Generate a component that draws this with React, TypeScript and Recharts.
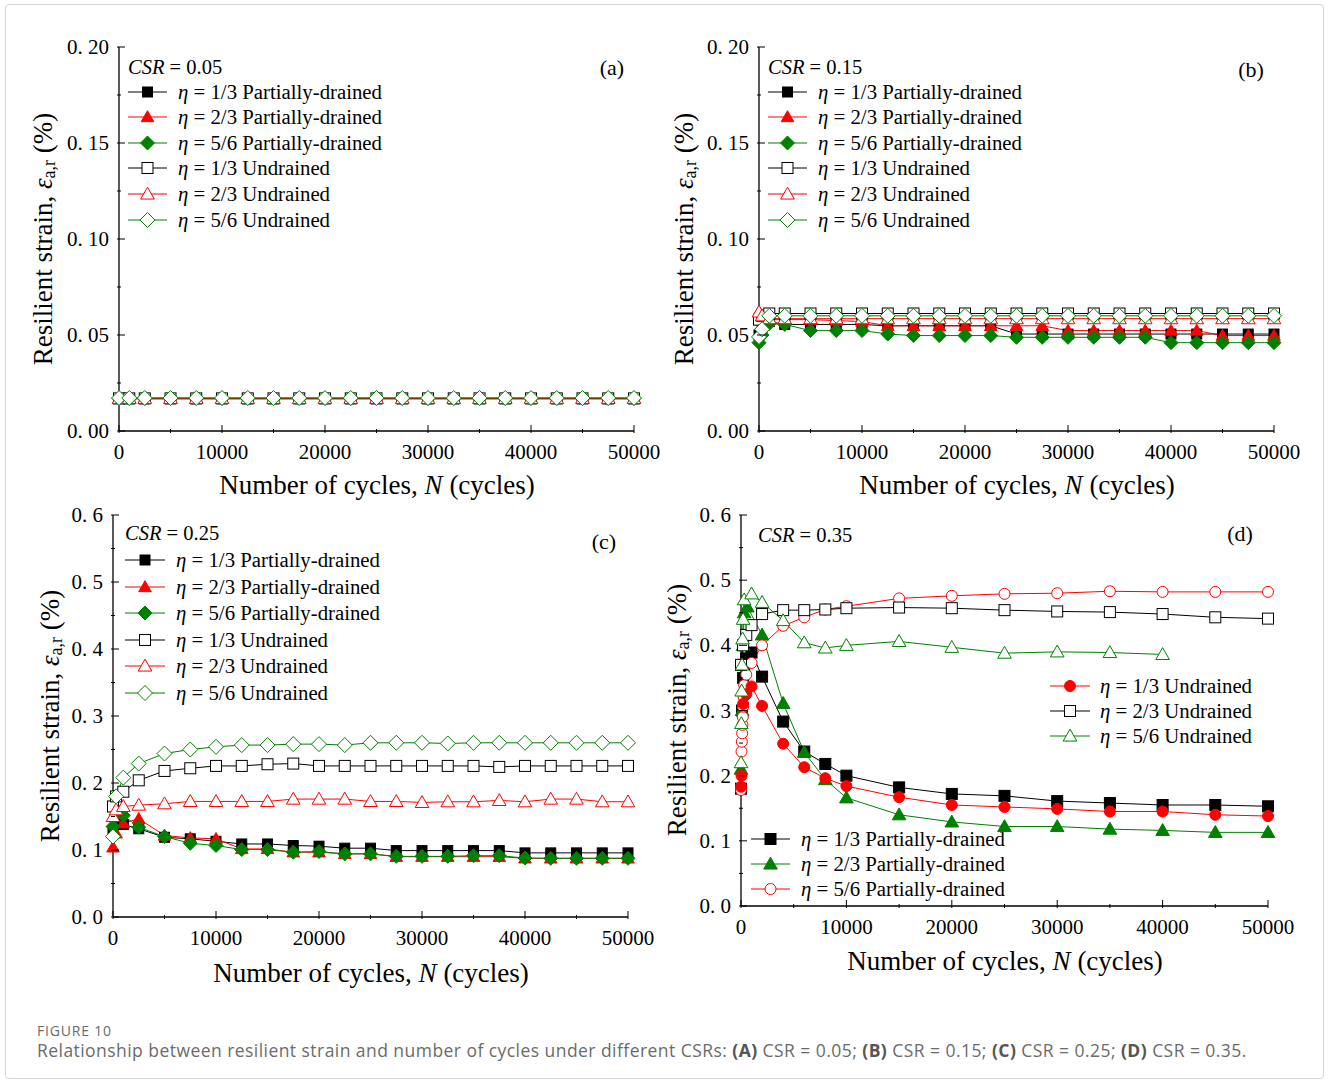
import React from 'react';
import { LineChart, Line, XAxis, YAxis, Legend } from 'recharts';

const SERIF = '"Liberation Serif", "Times New Roman", Times, serif';
const BLACK = '#000000';
const RED = '#ff0000';
const GREEN = '#008000';

// ---------- shared ticks ----------
const xTicks = [0, 5000, 10000, 15000, 20000, 25000, 30000, 35000, 40000, 45000, 50000];
const yTicksAB = [0, 0.025, 0.05, 0.075, 0.1, 0.125, 0.15, 0.175, 0.2];
const yTicksCD = [0, 0.05, 0.1, 0.15, 0.2, 0.25, 0.3, 0.35, 0.4, 0.45, 0.5, 0.55, 0.6];

// ---------- panel (a) CSR = 0.05 ----------
const nA = [0, 1000, 2500, 5000, 7500, 10000, 12500, 15000, 17500, 20000, 22500, 25000, 27500, 30000, 32500, 35000, 37500, 40000, 42500, 45000, 47500, 50000];
const aPd13 = [0.0168, 0.0168, 0.0168, 0.0168, 0.0168, 0.0168, 0.0168, 0.0168, 0.0168, 0.0168, 0.0168, 0.0168, 0.0168, 0.0168, 0.0168, 0.0168, 0.0168, 0.0168, 0.0168, 0.0168, 0.0168, 0.0168];
const aPd23 = [0.0168, 0.0168, 0.0168, 0.0168, 0.0168, 0.0168, 0.0168, 0.0168, 0.0168, 0.0168, 0.0168, 0.0168, 0.0168, 0.0168, 0.0168, 0.0168, 0.0168, 0.0168, 0.0168, 0.0168, 0.0168, 0.0168];
const aPd56 = [0.017, 0.017, 0.017, 0.017, 0.017, 0.017, 0.017, 0.017, 0.017, 0.017, 0.017, 0.017, 0.017, 0.017, 0.017, 0.017, 0.017, 0.017, 0.017, 0.017, 0.017, 0.017];
const aUd13 = [0.017, 0.017, 0.017, 0.017, 0.017, 0.017, 0.017, 0.017, 0.017, 0.017, 0.017, 0.017, 0.017, 0.017, 0.017, 0.017, 0.017, 0.017, 0.017, 0.017, 0.017, 0.017];
const aUd23 = [0.017, 0.017, 0.017, 0.017, 0.017, 0.017, 0.017, 0.017, 0.017, 0.017, 0.017, 0.017, 0.017, 0.017, 0.017, 0.017, 0.017, 0.017, 0.017, 0.017, 0.017, 0.017];
const aUd56 = [0.0172, 0.0172, 0.0172, 0.0172, 0.0172, 0.0172, 0.0172, 0.0172, 0.0172, 0.0172, 0.0172, 0.0172, 0.0172, 0.0172, 0.0172, 0.0172, 0.0172, 0.0172, 0.0172, 0.0172, 0.0172, 0.0172];

// ---------- panel (b) CSR = 0.15 ----------
const nB = [0, 300, 1000, 2500, 5000, 7500, 10000, 12500, 15000, 17500, 20000, 22500, 25000, 27500, 30000, 32500, 35000, 37500, 40000, 42500, 45000, 47500, 50000];
const bPd13 = [0.05, 0.054, 0.057, 0.0555, 0.0555, 0.0555, 0.0555, 0.0548, 0.0548, 0.0548, 0.0548, 0.0548, 0.0505, 0.0505, 0.0505, 0.0505, 0.0505, 0.0505, 0.0505, 0.0505, 0.0505, 0.0505, 0.0505];
const bPd23 = [0.062, 0.06, 0.058, 0.058, 0.058, 0.0575, 0.057, 0.0548, 0.0548, 0.0548, 0.0548, 0.0548, 0.0548, 0.0548, 0.0523, 0.0523, 0.0523, 0.0523, 0.0523, 0.0523, 0.0497, 0.0497, 0.0497];
const bPd56 = [0.046, 0.05, 0.056, 0.0555, 0.0523, 0.0523, 0.0523, 0.0505, 0.0497, 0.0497, 0.0497, 0.0497, 0.0488, 0.0488, 0.0488, 0.0488, 0.0488, 0.0488, 0.046, 0.046, 0.046, 0.046, 0.046];
const bUd13 = [0.058, 0.06, 0.0612, 0.0612, 0.0612, 0.0612, 0.0612, 0.0612, 0.0612, 0.0612, 0.0612, 0.0612, 0.0612, 0.0612, 0.0612, 0.0612, 0.0612, 0.0612, 0.0612, 0.0612, 0.0612, 0.0612, 0.0612];
const bUd23 = [0.062, 0.06, 0.0585, 0.0585, 0.0585, 0.0585, 0.0585, 0.0585, 0.0585, 0.0585, 0.0585, 0.0585, 0.0585, 0.0585, 0.0585, 0.0585, 0.0585, 0.0585, 0.0585, 0.0585, 0.0585, 0.0585, 0.0585];
const bUd56 = [0.049, 0.053, 0.06, 0.06, 0.06, 0.06, 0.06, 0.06, 0.06, 0.06, 0.06, 0.06, 0.06, 0.06, 0.06, 0.06, 0.06, 0.06, 0.06, 0.06, 0.06, 0.06, 0.06];

// ---------- panel (c) CSR = 0.25 ----------
const nC = [0, 300, 1000, 2500, 5000, 7500, 10000, 12500, 15000, 17500, 20000, 22500, 25000, 27500, 30000, 32500, 35000, 37500, 40000, 42500, 45000, 47500, 50000];
const cPd13 = [0.125, 0.14, 0.138, 0.1317, 0.119, 0.1167, 0.113, 0.109, 0.109, 0.1067, 0.1057, 0.1027, 0.1027, 0.0991, 0.0991, 0.0991, 0.0991, 0.0991, 0.0957, 0.0957, 0.0957, 0.0957, 0.0957];
const cPd23 = [0.104, 0.125, 0.14, 0.1466, 0.1217, 0.118, 0.1167, 0.1016, 0.1016, 0.0967, 0.0967, 0.0942, 0.0942, 0.09, 0.09, 0.09, 0.09, 0.09, 0.0876, 0.0876, 0.0876, 0.0876, 0.0876];
const cPd56 = [0.135, 0.16, 0.1517, 0.134, 0.12, 0.11, 0.1067, 0.1006, 0.1006, 0.0967, 0.0977, 0.0942, 0.0942, 0.0905, 0.0905, 0.0905, 0.0915, 0.0915, 0.088, 0.0876, 0.0876, 0.0876, 0.0876];
const cUd13 = [0.165, 0.18, 0.187, 0.204, 0.218, 0.222, 0.2255, 0.2255, 0.228, 0.229, 0.2255, 0.2255, 0.2255, 0.2255, 0.2255, 0.2255, 0.2255, 0.224, 0.2255, 0.2255, 0.2255, 0.2255, 0.2255];
const cUd23 = [0.15, 0.16, 0.165, 0.167, 0.169, 0.1725, 0.1725, 0.1725, 0.1725, 0.176, 0.176, 0.176, 0.1725, 0.1725, 0.171, 0.172, 0.172, 0.174, 0.172, 0.176, 0.176, 0.172, 0.172];
const cUd56 = [0.12, 0.18, 0.208, 0.229, 0.244, 0.25, 0.254, 0.2566, 0.2566, 0.258, 0.258, 0.2566, 0.26, 0.26, 0.26, 0.259, 0.26, 0.26, 0.26, 0.26, 0.26, 0.26, 0.26];

// ---------- panel (d) CSR = 0.35 ----------
const dPd13N = [0, 100, 200, 300, 500, 1000, 2000, 4000, 6000, 8000, 10000, 15000, 20000, 25000, 30000, 35000, 40000, 45000, 50000];
const dPd13 = [0.18, 0.3, 0.35, 0.37, 0.38, 0.389, 0.352, 0.283, 0.237, 0.218, 0.2, 0.182, 0.172, 0.169, 0.161, 0.158, 0.155, 0.155, 0.153];
const dPd23N = [0, 100, 200, 300, 600, 2000, 4000, 6000, 8000, 10000, 15000, 20000, 25000, 30000, 35000, 40000, 45000, 50000];
const dPd23 = [0.21, 0.3, 0.4, 0.45, 0.459, 0.416, 0.311, 0.236, 0.194, 0.166, 0.14, 0.129, 0.122, 0.122, 0.118, 0.116, 0.113, 0.113];
const dPd56N = [0, 50, 80, 110, 140, 170, 200, 250, 300, 500, 1000, 2000, 4000, 6000, 8000, 10000, 15000, 20000, 25000, 30000, 35000, 40000, 45000, 50000];
const dPd56 = [0.178, 0.237, 0.252, 0.265, 0.278, 0.29, 0.306, 0.321, 0.339, 0.355, 0.373, 0.4, 0.43, 0.443, 0.455, 0.46, 0.472, 0.476, 0.479, 0.48, 0.483, 0.482, 0.482, 0.482];
const dUd13N = [0, 50, 200, 500, 1000, 2000, 4000, 6000, 8000, 10000, 15000, 20000, 25000, 30000, 35000, 40000, 45000, 50000];
const dUd13 = [0.183, 0.2, 0.31, 0.325, 0.337, 0.307, 0.249, 0.213, 0.196, 0.184, 0.167, 0.155, 0.152, 0.149, 0.145, 0.145, 0.14, 0.138];
const dUd23N = [0, 200, 500, 1000, 2000, 4000, 6000, 8000, 10000, 15000, 20000, 25000, 30000, 35000, 40000, 45000, 50000];
const dUd23 = [0.37, 0.4, 0.416, 0.431, 0.448, 0.454, 0.454, 0.455, 0.457, 0.458, 0.457, 0.454, 0.452, 0.451, 0.448, 0.443, 0.441];
const dUd56N = [0, 30, 60, 100, 150, 200, 300, 1000, 2000, 4000, 6000, 8000, 10000, 15000, 20000, 25000, 30000, 35000, 40000];
const dUd56 = [0.22, 0.28, 0.33, 0.37, 0.41, 0.44, 0.47, 0.479, 0.466, 0.438, 0.404, 0.396, 0.4, 0.406, 0.397, 0.388, 0.39, 0.389, 0.386];

// ---------- labels ----------
const lbl13pd = '1/3 Partially-drained';
const lbl23pd = '2/3 Partially-drained';
const lbl56pd = '5/6 Partially-drained';
const lbl13ud = '1/3 Undrained';
const lbl23ud = '2/3 Undrained';
const lbl56ud = '5/6 Undrained';

type Shape = 'square' | 'triangle' | 'diamond' | 'circle';
type Series = { name: string; n: number[]; v: number[]; color: string; shape: Shape; filled: boolean; size: number };

const Marker = ({ shape, x, y, color, filled, size }: { shape: Shape; x: number; y: number; color: string; filled: boolean; size: number }) => {
  const fill = filled ? color : '#ffffff';
  const h = size / 2;
  if (shape === 'square') return <rect x={x - h} y={y - h} width={size} height={size} fill={fill} stroke={color} strokeWidth={1} />;
  if (shape === 'circle') return <circle cx={x} cy={y} r={h} fill={fill} stroke={color} strokeWidth={1} />;
  if (shape === 'triangle')
    return <polygon points={`${x},${y - h * 1.05} ${x - h * 1.05},${y + h * 0.78} ${x + h * 1.05},${y + h * 0.78}`} fill={fill} stroke={color} strokeWidth={1} />;
  return <polygon points={`${x},${y - h} ${x + h},${y} ${x},${y + h} ${x - h},${y}`} fill={fill} stroke={color} strokeWidth={1} />;
};

const toPts = (n: number[], v: number[]) => n.map((x, i) => ({ n: x, v: v[i] }));

type LegendBlock = { rows: number[]; lineX0: number; lineX1: number; textX: number; entries: Series[] };

type PanelProps = {
  px: number; py: number; pw: number; ph: number;
  yMax: number; yTicks: number[]; yStep: number; yDec: number;
  series: Series[];
  header: { text: string; x: number; y: number };
  letter: { text: string; x: number; y: number };
  blocks: LegendBlock[];
  xTitle: { x: number; y: number };
  yTitle: { x: number; y: number };
};

function Panel(p: PanelProps) {
  const L = p.px - 100;
  const T = p.py - 20;
  const W = p.pw + 150;
  const H = p.ph + 110;

  const xTick = (props: any) => {
    const { x, y, payload } = props;
    const v = payload.value;
    const major = v % 10000 === 0;
    return (
      <g>
        <line x1={x} x2={x} y1={y} y2={y - (major ? 8 : 4)} stroke="#000" strokeWidth={1} />
        {major && (
          <text x={x} y={y + 19} textAnchor="middle" dominantBaseline="central" fontFamily={SERIF} fontSize={21} fill="#000">
            {String(v)}
          </text>
        )}
      </g>
    );
  };

  const yTick = (props: any) => {
    const { x, y, payload } = props;
    const v = payload.value;
    const r = v / p.yStep;
    const major = Math.abs(r - Math.round(r)) < 1e-6;
    return (
      <g>
        <line x1={x} x2={x + (major ? 8 : 4)} y1={y} y2={y} stroke="#000" strokeWidth={1} />
        {major && (
          <text x={x - 8} y={y} textAnchor="end" dominantBaseline="central" fontFamily={SERIF} fontSize={21} fill="#000">
            {v.toFixed(p.yDec).replace('.', '. ')}
          </text>
        )}
      </g>
    );
  };

  const xTitle = () => (
    <text x={p.xTitle.x - L} y={p.xTitle.y - T} textAnchor="middle" dominantBaseline="central" fontFamily={SERIF} fontSize={27} fill="#000">
      <tspan>Number of cycles, </tspan>
      <tspan fontStyle="italic">N</tspan>
      <tspan> (cycles)</tspan>
    </text>
  );

  const yTitle = () => {
    const cx = p.yTitle.x - L;
    const cy = p.yTitle.y - T;
    return (
      <text x={cx} y={cy} transform={`rotate(-90, ${cx}, ${cy})`} textAnchor="middle" dominantBaseline="central" fontFamily={SERIF} fontSize={27} fill="#000">
        <tspan>Resilient strain, </tspan>
        <tspan fontStyle="italic">ε</tspan>
        <tspan fontSize={18} dy={6}>a,r</tspan>
        <tspan dy={-6}> (%)</tspan>
      </text>
    );
  };

  const legendContent = () => (
    <div style={{ position: 'relative', width: 0, height: 0, fontFamily: SERIF, color: '#000' }}>
      <div style={{ position: 'absolute', left: p.header.x - L, top: p.header.y - T - 12, lineHeight: '24px', fontSize: 20.5, whiteSpace: 'nowrap' }}>
        <i>CSR</i> = {p.header.text}
      </div>
      <div style={{ position: 'absolute', left: p.letter.x - L - 20, width: 40, textAlign: 'center', top: p.letter.y - T - 12, lineHeight: '24px', fontSize: 22, whiteSpace: 'nowrap' }}>
        {p.letter.text}
      </div>
      {p.blocks.map((b, bi) =>
        b.entries.map((s, i) => {
          const cy = b.rows[i];
          const w = b.lineX1 - b.lineX0;
          return (
            <React.Fragment key={`${bi}-${i}`}>
              <svg style={{ position: 'absolute', left: b.lineX0 - L, top: cy - T - 10, overflow: 'visible' }} width={w} height={20}>
                <line x1={0} x2={w} y1={10} y2={10} stroke={s.color} strokeWidth={1} />
                <Marker shape={s.shape} x={w / 2} y={10} color={s.color} filled={s.filled} size={s.size} />
              </svg>
              <div style={{ position: 'absolute', left: b.textX - L, top: cy - T - 12, lineHeight: '24px', fontSize: 20.8, whiteSpace: 'nowrap' }}>
                <i>η</i> = {s.name}
              </div>
            </React.Fragment>
          );
        })
      )}
    </div>
  );

  return (
    <div style={{ position: 'absolute', left: L, top: T, width: W, height: H }}>
      <LineChart width={W} height={H} margin={{ top: 20, right: 50, bottom: 60, left: 40 }}>
        <XAxis
          type="number"
          dataKey="n"
          domain={[0, 50000]}
          ticks={xTicks}
          interval={0}
          tickSize={0}
          tickLine={false}
          height={30}
          axisLine={{ stroke: '#000', strokeWidth: 1.3 }}
          tick={xTick}
          label={xTitle}
        />
        <XAxis xAxisId="top" orientation="top" type="number" domain={[0, 50000]} height={0} tick={false} tickLine={false} axisLine={{ stroke: '#000', strokeWidth: 1.3 }} />
        <YAxis
          type="number"
          domain={[0, p.yMax]}
          ticks={p.yTicks}
          interval={0}
          width={60}
          tickSize={0}
          tickLine={false}
          axisLine={{ stroke: '#000', strokeWidth: 1.3 }}
          tick={yTick}
          label={yTitle}
        />
        <YAxis yAxisId="right" orientation="right" type="number" domain={[0, p.yMax]} width={0} tick={false} tickLine={false} axisLine={{ stroke: '#000', strokeWidth: 1.3 }} />
        {p.series.map((s, si) => (
          <Line
            key={si}
            data={toPts(s.n, s.v)}
            dataKey="v"
            name={s.name}
            type="linear"
            stroke={s.color}
            strokeWidth={1}
            isAnimationActive={false}
            activeDot={false}
            legendType="none"
            dot={(dp: any) => {
              const { cx, cy, index } = dp;
              if (cx == null || cy == null) return <g key={`d${index}`} />;
              return (
                <g key={`d${index}`}>
                  <Marker shape={s.shape} x={cx} y={cy} color={s.color} filled={s.filled} size={s.size} />
                </g>
              );
            }}
          />
        ))}
        <Legend layout="horizontal" verticalAlign="middle" align="center" content={legendContent} wrapperStyle={{ left: 0, top: 0, width: 0, height: 0, overflow: 'visible' }} />
      </LineChart>
    </div>
  );
}

const sPd13 = (n: number[], v: number[]): Series => ({ name: lbl13pd, n, v, color: BLACK, shape: 'square', filled: true, size: 10 });
const sPd23 = (n: number[], v: number[]): Series => ({ name: lbl23pd, n, v, color: RED, shape: 'triangle', filled: true, size: 12 });
const sPd56 = (n: number[], v: number[]): Series => ({ name: lbl56pd, n, v, color: GREEN, shape: 'diamond', filled: true, size: 14 });
const sUd13 = (n: number[], v: number[]): Series => ({ name: lbl13ud, n, v, color: BLACK, shape: 'square', filled: false, size: 11 });
const sUd23 = (n: number[], v: number[]): Series => ({ name: lbl23ud, n, v, color: RED, shape: 'triangle', filled: false, size: 13 });
const sUd56 = (n: number[], v: number[]): Series => ({ name: lbl56ud, n, v, color: GREEN, shape: 'diamond', filled: false, size: 15 });

export default function App() {
  const seriesA = [sPd13(nA, aPd13), sPd23(nA, aPd23), sPd56(nA, aPd56), sUd13(nA, aUd13), sUd23(nA, aUd23), sUd56(nA, aUd56)];
  const seriesB = [sPd13(nB, bPd13), sPd23(nB, bPd23), sPd56(nB, bPd56), sUd13(nB, bUd13), sUd23(nB, bUd23), sUd56(nB, bUd56)];
  const seriesC = [sPd13(nC, cPd13), sPd23(nC, cPd23), sPd56(nC, cPd56), sUd13(nC, cUd13), sUd23(nC, cUd23), sUd56(nC, cUd56)];

  const dPdA: Series = { name: lbl13pd, n: dPd13N, v: dPd13, color: BLACK, shape: 'square', filled: true, size: 11 };
  const dPdB: Series = { name: lbl23pd, n: dPd23N, v: dPd23, color: GREEN, shape: 'triangle', filled: true, size: 13 };
  const dPdC: Series = { name: lbl56pd, n: dPd56N, v: dPd56, color: RED, shape: 'circle', filled: false, size: 11 };
  const dUdA: Series = { name: lbl13ud, n: dUd13N, v: dUd13, color: RED, shape: 'circle', filled: true, size: 11 };
  const dUdB: Series = { name: lbl23ud, n: dUd23N, v: dUd23, color: BLACK, shape: 'square', filled: false, size: 11 };
  const dUdC: Series = { name: lbl56ud, n: dUd56N, v: dUd56, color: GREEN, shape: 'triangle', filled: false, size: 13 };
  const seriesD = [dPdA, dPdB, dPdC, dUdA, dUdB, dUdC];

  const rowsAB = [92, 117, 143, 168, 194, 220];
  const rowsC = [560, 587, 613, 640, 666, 693];

  return (
    <div style={{ position: 'absolute', left: 0, top: 0, width: 1328, height: 1083, background: '#fff', overflow: 'hidden' }}>
      <div style={{ position: 'absolute', left: 5, top: 4, width: 1317, height: 1073, border: '1px solid #d6d6d6', borderRadius: 4 }} />
      <Panel
        px={119} py={47} pw={515} ph={384}
        yMax={0.2} yTicks={yTicksAB} yStep={0.05} yDec={2}
        series={seriesA}
        header={{ text: '0.05', x: 128, y: 67 }}
        letter={{ text: '(a)', x: 612, y: 68 }}
        blocks={[{ rows: rowsAB, lineX0: 128, lineX1: 167, textX: 178, entries: seriesA }]}
        xTitle={{ x: 377, y: 485 }}
        yTitle={{ x: 43, y: 239 }}
      />
      <Panel
        px={759} py={47} pw={515} ph={384}
        yMax={0.2} yTicks={yTicksAB} yStep={0.05} yDec={2}
        series={seriesB}
        header={{ text: '0.15', x: 768, y: 67 }}
        letter={{ text: '(b)', x: 1251, y: 70 }}
        blocks={[{ rows: rowsAB, lineX0: 768, lineX1: 807, textX: 818, entries: seriesB }]}
        xTitle={{ x: 1017, y: 485 }}
        yTitle={{ x: 684, y: 239 }}
      />
      <Panel
        px={113} py={515} pw={515} ph={402}
        yMax={0.6} yTicks={yTicksCD} yStep={0.1} yDec={1}
        series={seriesC}
        header={{ text: '0.25', x: 125, y: 533 }}
        letter={{ text: '(c)', x: 604, y: 542 }}
        blocks={[{ rows: rowsC, lineX0: 125, lineX1: 165, textX: 176, entries: seriesC }]}
        xTitle={{ x: 371, y: 973 }}
        yTitle={{ x: 50, y: 716 }}
      />
      <Panel
        px={741} py={515} pw={527} ph={391}
        yMax={0.6} yTicks={yTicksCD} yStep={0.1} yDec={1}
        series={seriesD}
        header={{ text: '0.35', x: 758, y: 535 }}
        letter={{ text: '(d)', x: 1240, y: 534 }}
        blocks={[
          { rows: [686, 711, 736], lineX0: 1050, lineX1: 1090, textX: 1100, entries: [dUdA, dUdB, dUdC] },
          { rows: [839, 864, 889], lineX0: 751, lineX1: 790, textX: 801, entries: [dPdA, dPdB, dPdC] },
        ]}
        xTitle={{ x: 1005, y: 961 }}
        yTitle={{ x: 677, y: 710 }}
      />
      <div style={{ position: 'absolute', left: 37, top: 1021, fontFamily: '"Open Sans", "Noto Sans", sans-serif', fontSize: 14, color: '#6b6b6b', letterSpacing: 0.8 }}>
        FIGURE 10
      </div>
      <div style={{ position: 'absolute', left: 37, top: 1038, fontFamily: '"Open Sans", "Noto Sans", sans-serif', fontSize: 17.5, color: '#6b6b6b', letterSpacing: 0.45, whiteSpace: 'nowrap' }}>
        Relationship between resilient strain and number of cycles under different CSRs: <b style={{ color: '#555' }}>(A)</b> CSR = 0.05; <b style={{ color: '#555' }}>(B)</b> CSR = 0.15; <b style={{ color: '#555' }}>(C)</b> CSR = 0.25; <b style={{ color: '#555' }}>(D)</b> CSR = 0.35.
      </div>
    </div>
  );
}
